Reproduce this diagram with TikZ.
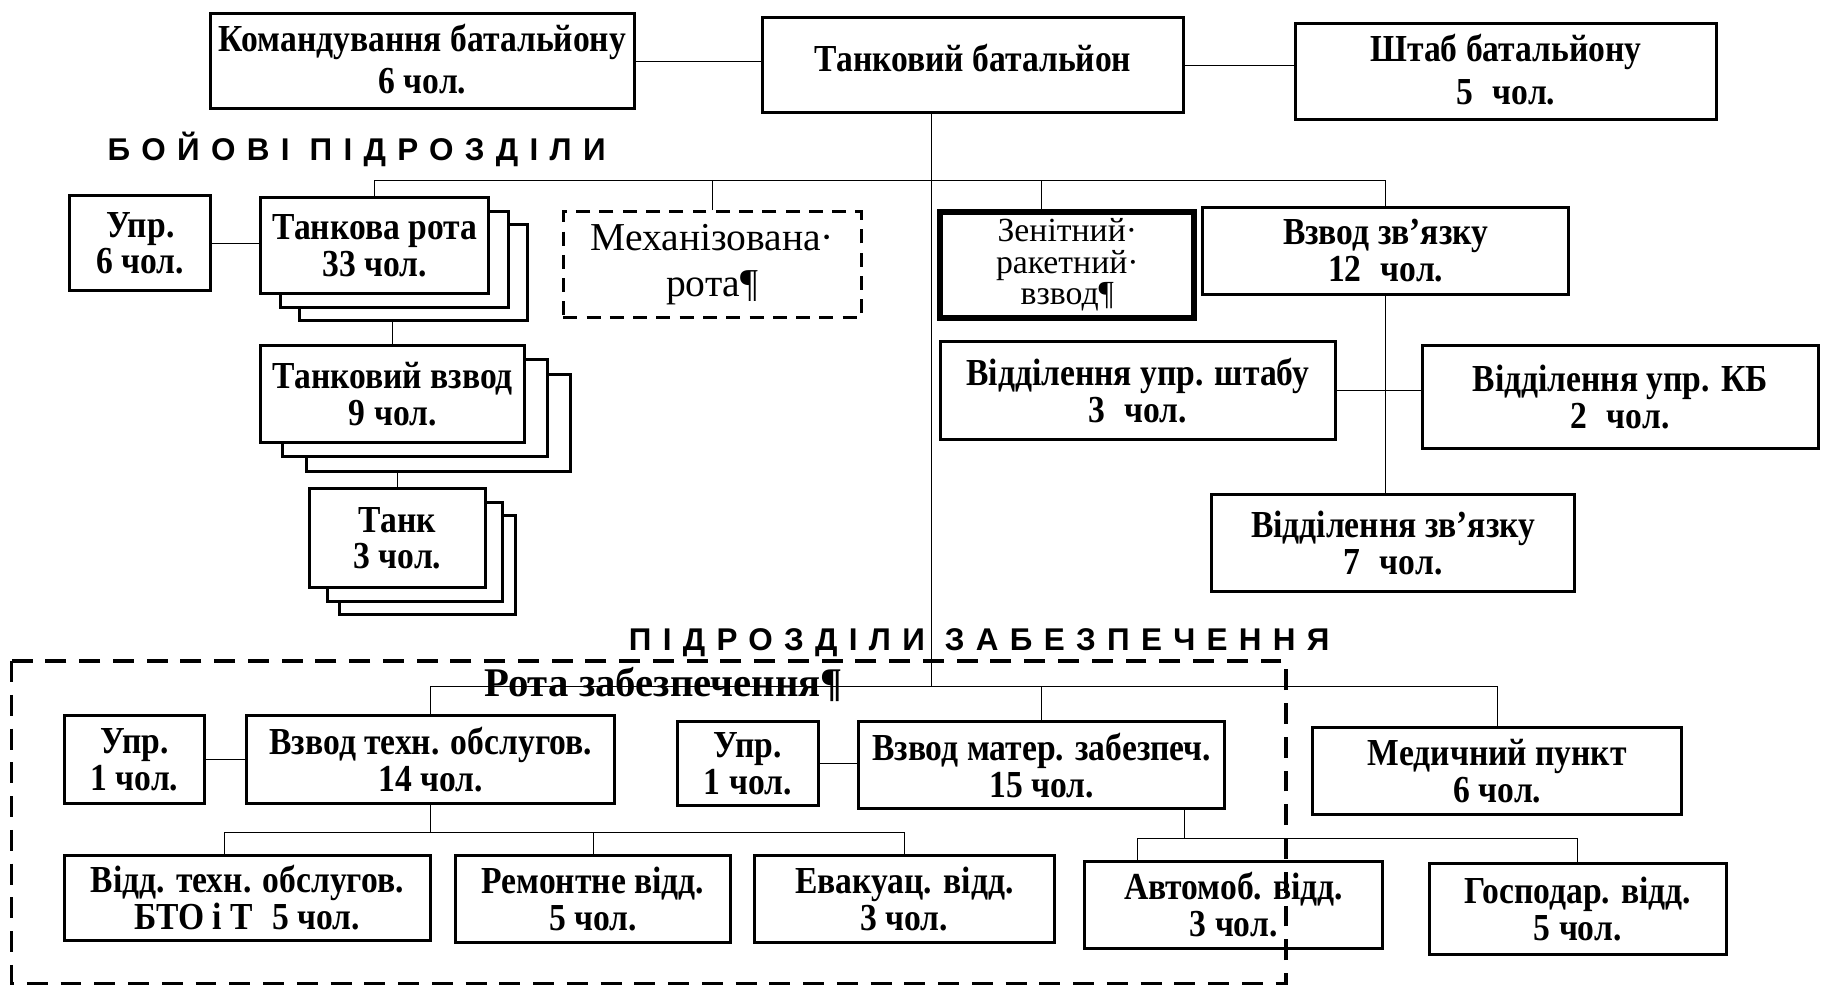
\documentclass[tikz,border=0pt]{standalone}
\usepackage{fontspec}
\setmainfont{Liberation Serif}
\newfontfamily\boxfont[FakeStretch=0.88]{Liberation Serif}
\newfontfamily\labfont[LetterSpace=36]{Liberation Sans}
\usetikzlibrary{backgrounds,shadows,calc}
\tikzset{
  box/.style={draw, line width=1.3pt, fill=white, inner sep=0pt, align=center,
    font=\boxfont\bfseries\fontsize{16.4}{15.8}\selectfont},
  stack/.style n args={4}{
    copy shadow={shadow xshift=#3, shadow yshift=#4, draw, line width=1.3pt, fill=white},
    copy shadow={shadow xshift=#1, shadow yshift=#2, draw, line width=1.3pt, fill=white}},
  mechbox/.style={dash pattern=on 6pt off 4pt, line width=1.4pt,
    font=\rmfamily\mdseries\fontsize{17}{20}\selectfont},
  zrbox/.style={line width=2.6pt, font=\rmfamily\mdseries\fontsize{14.5}{13.5}\selectfont},
  conn/.style={line width=1.3pt},
  lab/.style={font=\labfont\bfseries\fontsize{13.5}{15}\selectfont, inner sep=0pt, anchor=west},
  rota/.style={font=\rmfamily\bfseries\fontsize{17.5}{19}\selectfont, inner sep=0pt},
  bigdash/.style={line width=1.5pt, dash pattern=on 9pt off 5.5pt}
}
\newcommand{\ob}[7][]{\node[box,minimum width={(#5-#3)*0.5pt},minimum height={(#6-#4)*0.5pt},#1] (#2) at ({(#3+#5)/2},{(#4+#6)/2}) {#7};}
\begin{document}
\begin{tikzpicture}[x=0.5pt,y=-0.5pt]
\useasboundingbox (0,0) rectangle (1568,861);
% top
\ob{k}{181}{12}{545}{93}{\raisebox{2pt}{\shortstack{Командування батальйону\\[1pt]6 чол.}}}
\ob{tb}{655}{15}{1017}{97}{\raisebox{6pt}{Танковий батальйон}}
\ob{sh}{1113}{20}{1475}{103}{\raisebox{2pt}{\shortstack{Штаб батальйону\\[1pt]5\enspace чол.}}}
% labels
\node[lab] (l1) at (92,128) {БОЙОВІ ПІДРОЗДІЛИ};
\node[lab] (l2) at (540,552) {ПІДРОЗДІЛИ ЗАБЕЗПЕЧЕННЯ};
% combat units
\ob{u1}{60}{168}{181}{250}{Упр.\\6 чол.}
\ob[stack={8.5pt}{-6pt}{16.5pt}{-11.5pt}]{tr}{224}{170}{420}{252}{Танкова рота\\33 чол.}
\ob[mechbox]{mr}{484}{182}{740}{273}{Механізована·\\рота¶}
\ob[zrbox]{zr}{808}{182}{1026}{273}{Зенітний·\\ракетний·\\взвод¶}
\ob{vz}{1033}{178}{1348}{253}{Взвод зв’язку\\12\enspace чол.}
\ob[stack={9.5pt}{-6pt}{19.5pt}{-12.5pt}]{tv}{224}{297}{451}{380}{Танковий взвод\\9 чол.}
\ob[stack={7.5pt}{-6pt}{13pt}{-11.5pt}]{tk}{266}{420}{417}{505}{Танк\\3 чол.}
\ob{vus}{808}{293}{1147}{378}{Відділення упр. штабу\\3\enspace чол.}
\ob{vkb}{1222}{297}{1562}{385}{Відділення упр. КБ\\2\enspace чол.}
\ob{vzz}{1041}{425}{1353}{508}{Відділення зв’язку\\7\enspace чол.}
% support units
\node[rota] (rz) at (570,588) {Рота забезпечення¶};
\ob{u2}{55}{615}{176}{690}{Упр.\\1 чол.}
\ob{vt}{212}{615}{528}{690}{Взвод техн. обслугов.\\14 чол.}
\ob{u3}{582}{620}{703}{692}{Упр.\\1 чол.}
\ob{vm}{738}{620}{1052}{695}{Взвод матер. забезпеч.\\15 чол.}
\ob{med}{1128}{625}{1445}{700}{Медичний пункт\\6 чол.}
\ob{vtt}{55}{735}{370}{808}{Відд. техн. обслугов.\\БТО і Т\enspace 5 чол.}
\ob{rem}{391}{735}{628}{810}{Ремонтне відд.\\5 чол.}
\ob{ev}{648}{735}{906}{810}{Евакуац. відд.\\3 чол.}
\ob{av}{932}{740}{1188}{815}{Автомоб. відд.\\3 чол.}
\ob{gos}{1228}{742}{1483}{820}{Господар. відд.\\5 чол.}
% junctions
\coordinate (tj) at (800,155);
\coordinate (tj2) at (800,590);
\coordinate (zj) at (895,155);
\coordinate (b3) at (365,715);
\coordinate (b3L) at (193,715);
\coordinate (b4) at (1018,720);
\coordinate (b4L) at (977,720);
\begin{scope}[on background layer, conn]
\draw (k.east) -- (k.east -| tb.west);
\draw (tb.east) -- (tb.east -| sh.west);
\draw (tj2) -- (tj2 |- tb.south);
\draw (tr.north) |- (tj) -| (vz.north);
\draw (mr.north) -- (mr.north |- tj);
\draw (zj) -- (zj |- zr.north);
\draw (u1.east) -- (u1.east -| tr.west);
\draw (tv.north) -- (tv.north |- tr.south);
\draw (tk.north) -- (tk.north |- tv.south);
\draw (vz.south) -- (vz.south |- vzz.north);
\draw (vus.east) -- (vus.east -| vkb.west);
\draw (vt.north) |- (tj2) -| (med.north);
\draw (vm.north) -- (vm.north |- tj2);
\draw (u2.east) -- (u2.east -| vt.west);
\draw (u3.east) -- (u3.east -| vm.west);
\draw (vt.south) -- (vt.south |- b3);
\draw (b3L |- vtt.north) -- (b3L) -| (ev.north);
\draw (rem.north) -- (rem.north |- b3);
\draw (b4) -- (b4 |- vm.south);
\draw (b4L |- av.north) -- (b4L) -| (gos.north);
\end{scope}
\draw[bigdash] (10,568) rectangle (1105,845);
\end{tikzpicture}
\end{document}
